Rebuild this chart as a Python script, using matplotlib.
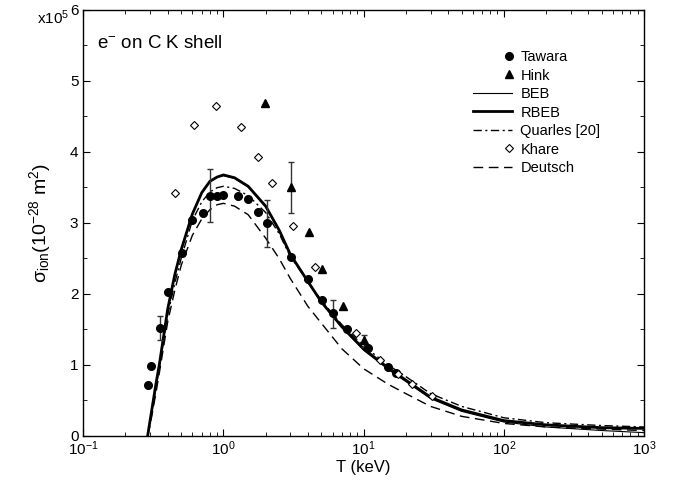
import numpy as np
import matplotlib
matplotlib.use("Agg")
import matplotlib.pyplot as plt
from matplotlib.legend_handler import HandlerLine2D
from matplotlib.ticker import MultipleLocator, LogLocator, NullFormatter

plt.rcParams['font.family'] = ['Liberation Sans', 'DejaVu Sans']
plt.rcParams['mathtext.fontset'] = 'custom'
plt.rcParams['mathtext.rm'] = 'Liberation Sans'
plt.rcParams['mathtext.it'] = 'Liberation Sans:italic'
plt.rcParams['mathtext.default'] = 'regular'

# ---- data (T in keV, sigma in 1e5 x 1e-28 m^2) ----
T_curve = [0.288, 0.3, 0.33, 0.35, 0.4, 0.45, 0.5, 0.6, 0.7, 0.8, 0.9, 1.0, 1.2, 1.5,
           2, 2.5, 3, 4, 5, 7, 10, 15, 20, 30, 50, 100, 200, 500, 1000]
beb = [0, 0.22, 0.73, 1.02, 1.78, 2.27, 2.62, 3.12, 3.42, 3.58, 3.64, 3.66, 3.62, 3.50,
       3.22, 2.88, 2.54, 2.16, 1.87, 1.52, 1.20, 0.93, 0.76, 0.52, 0.34, 0.19, 0.12, 0.07, 0.04]
rbeb = [0, 0.22, 0.73, 1.02, 1.78, 2.27, 2.62, 3.12, 3.42, 3.58, 3.64, 3.67, 3.63, 3.51,
        3.23, 2.89, 2.55, 2.17, 1.88, 1.53, 1.22, 0.95, 0.78, 0.54, 0.36, 0.21, 0.15, 0.11, 0.10]
quarles = [0, 0.18, 0.68, 0.98, 1.70, 2.15, 2.50, 3.03, 3.29, 3.43, 3.49, 3.51, 3.48, 3.38,
           3.14, 2.84, 2.52, 2.17, 1.90, 1.56, 1.26, 0.99, 0.83, 0.59, 0.41, 0.25, 0.18, 0.14, 0.12]
deutsch = [0, 0.15, 0.60, 0.90, 1.60, 2.05, 2.40, 2.82, 3.05, 3.18, 3.25, 3.27, 3.23, 3.11,
           2.78, 2.49, 2.21, 1.82, 1.58, 1.22, 0.94, 0.72, 0.59, 0.41, 0.27, 0.17, 0.12, 0.09, 0.07]

tawara_T = [0.291, 0.303, 0.352, 0.403, 0.504, 0.598, 0.711, 0.807, 0.906, 0.997, 1.26,
            1.50, 1.75, 2.03, 3.02, 4.03, 5.02, 6.01, 7.56, 10.7, 14.9, 17.1]
tawara_s = [0.71, 0.98, 1.52, 2.02, 2.57, 3.04, 3.14, 3.38, 3.38, 3.39, 3.38,
            3.33, 3.15, 3.00, 2.52, 2.20, 1.91, 1.73, 1.50, 1.23, 0.96, 0.88]
tawara_err_T = [0.352, 0.807, 2.03, 6.01]
tawara_err_lo = [1.35, 3.01, 2.66, 1.52]
tawara_err_hi = [1.69, 3.75, 3.31, 1.91]

hink_T = [1.99, 3.02, 4.07, 5.07, 7.08, 10.1]
hink_s = [4.69, 3.50, 2.87, 2.34, 1.83, 1.34]
hink_err_T = [3.02, 10.1]
hink_err_lo = [3.14, 1.25]
hink_err_hi = [3.85, 1.42]

khare_T = [0.453, 0.620, 0.884, 1.33, 1.76, 2.22, 3.12, 4.50, 8.89, 13.1, 17.6, 22.3, 30.5]
khare_s = [3.41, 4.38, 4.64, 4.34, 3.92, 3.55, 2.95, 2.37, 1.45, 1.07, 0.86, 0.72, 0.55]

W, H = 677, 483
fig = plt.figure(figsize=(W / 100, H / 100), dpi=100)
ax = fig.add_axes([83.3 / W, 1 - 435.5 / H, (644 - 83.3) / W, (435.5 - 9.5) / H])

ax.plot(T_curve, beb, color='black', lw=0.8, label='BEB')
ax.plot(T_curve, rbeb, color='black', lw=2.0, label='RBEB')
ax.plot(T_curve, quarles, color='black', lw=1.0, dashes=(6, 2.5, 1.5, 2.5), label='Quarles [20]')
ax.plot(T_curve, deutsch, color='black', lw=1.0, dashes=(7, 4), label='Deutsch')


def draw_err(T, lo, hi):
    mid = [(a + b) / 2 for a, b in zip(lo, hi)]
    ax.errorbar(T, mid, yerr=[[m - a for m, a in zip(mid, lo)], [b - m for m, b in zip(mid, hi)]],
                fmt='none', ecolor='#333333', elinewidth=1.0, capsize=2.5, capthick=1.0)


draw_err(tawara_err_T, tawara_err_lo, tawara_err_hi)
draw_err(hink_err_T, hink_err_lo, hink_err_hi)

ax.plot(tawara_T, tawara_s, 'o', color='black', ms=5.5, label='Tawara')
ax.plot(hink_T, hink_s, '^', color='black', ms=5.5, label='Hink')
ax.plot(khare_T, khare_s, 'D', mfc='white', mec='black', mew=0.8, ms=4, label='Khare')

ax.set_xscale('log')
ax.set_xlim(0.1, 1000)
ax.set_ylim(0, 6)
ax.yaxis.set_major_locator(MultipleLocator(1))
ax.yaxis.set_minor_locator(MultipleLocator(0.5))
ax.xaxis.set_major_locator(LogLocator(base=10, numticks=10))
ax.xaxis.set_minor_locator(LogLocator(base=10, subs=np.arange(2, 10), numticks=20))
ax.xaxis.set_minor_formatter(NullFormatter())
ax.tick_params(which='both', direction='in', top=True, right=True, labelsize=11)
ax.tick_params(which='major', length=5, width=0.8)
ax.tick_params(which='minor', length=3, width=0.6)
ax.tick_params(axis='x', pad=3)
for s in ax.spines.values():
    s.set_linewidth(1.0)

ax.set_xlabel('T (keV)', fontsize=12, labelpad=1)
ax.set_ylabel('σ$_{ion}$(10$^{-28}$ m$^{2}$)', fontsize=14, labelpad=12)
fig.text(37 / W, 1 - 18 / H, 'x10$^{5}$', fontsize=11, va='center', ha='left')
ax.text((97 - 83.3) / 560.7, (435.5 - 44) / 426, 'e$^{-}$ on C K shell', transform=ax.transAxes,
        fontsize=13.5, va='center', ha='left')


class RightMarker(HandlerLine2D):
    def get_xdata(self, legend, xdescent, ydescent, width, height, fontsize):
        x = np.array([width - xdescent - 0.08 * width])
        return x, x


h = {l.get_label(): l for l in ax.get_lines() if not l.get_label().startswith('_')}
order = ['Tawara', 'Hink', 'BEB', 'RBEB', 'Quarles [20]', 'Khare', 'Deutsch']
handles = [h[k] for k in order]
hmap = {h['Tawara']: RightMarker(numpoints=1), h['Hink']: RightMarker(numpoints=1),
        h['Khare']: RightMarker(numpoints=1)}
ax.legend(handles, order, loc='upper left', bbox_to_anchor=((473 - 83.3) / 560.7, (435.5 - 50) / 426),
          frameon=False, fontsize=10.5, handlelength=2.7, handletextpad=0.55,
          labelspacing=0.31, borderpad=0, borderaxespad=0, handler_map=hmap, numpoints=1)

fig.savefig('out.png', dpi=100)
